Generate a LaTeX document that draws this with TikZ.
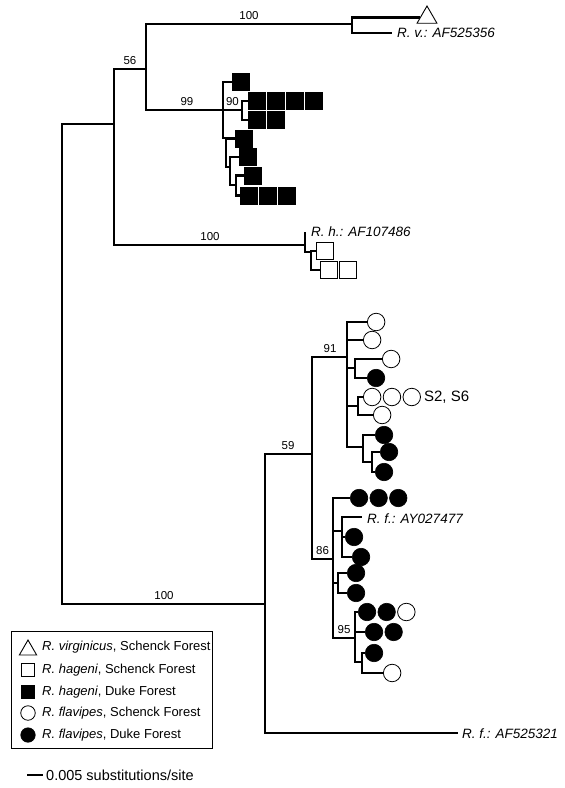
\documentclass[tikz,border=0pt]{standalone}
\usepackage{fontspec}
\setmainfont{Liberation Sans}
\usetikzlibrary{positioning,shapes.geometric}

\begin{document}
\begin{tikzpicture}[x=1pt,y=-1pt,
  br/.style={line width=2.2pt},
  fsq/.style={rectangle,draw,fill=black,minimum size=17pt,inner sep=0pt,line width=0.6pt},
  osq/.style={rectangle,draw,fill=white,minimum size=17pt,inner sep=0pt,line width=0.8pt},
  fci/.style={circle,draw,fill=black,minimum size=17.5pt,inner sep=0pt,line width=0.6pt},
  oci/.style={circle,draw,fill=white,minimum size=17.5pt,inner sep=0pt,line width=0.8pt},
  tri/.style={regular polygon,regular polygon sides=3,draw,fill=white,minimum size=23pt,inner sep=0pt,line width=0.9pt},
  boot/.style={font=\fontsize{11.5}{12}\selectfont,inner sep=0pt,anchor=base},
  leaflab/.style={font=\fontsize{13.5}{15}\selectfont\itshape,inner sep=0pt,anchor=west},
  legtxt/.style={font=\fontsize{13}{15}\selectfont,inner sep=0pt,anchor=west},
  row/.style={right=1.5pt of #1}
]
\useasboundingbox (0,0) rectangle (565,788);

% inner nodes of the tree
\coordinate (root) at (62,364);
\coordinate (nA) at (114,124);
\coordinate (nB) at (146,69);
\coordinate (nC) at (352,24);
\coordinate (nD) at (223,110);
\coordinate (n90) at (242,110);
\coordinate (nE) at (226,138);
\coordinate (nF) at (230,167);
\coordinate (nG) at (236,185);
\coordinate (nH) at (305,245);
\coordinate (nI) at (311,252);
\coordinate (nJ) at (265,604);
\coordinate (nK) at (312,454);
\coordinate (n91) at (347,357);
\coordinate (nP) at (355,368);
\coordinate (nQ) at (358,406);
\coordinate (nR) at (363,447);
\coordinate (nS) at (372,462);
\coordinate (n86) at (333,559);
\coordinate (nU) at (342,531);
\coordinate (nV) at (338,583);
\coordinate (n95) at (355,638);
\coordinate (nT) at (362,662);

% R. virginicus
\node[tri] (v1) at (427,17.5) {};
\coordinate (rvEnd) at (392,33);
\node[leaflab] (rvLab) at (397,33) {R. v.: AF525356};

% R. hageni, Duke Forest
\node[fsq,anchor=west] (d1) at (232,82) {};
\node[fsq,anchor=west] (d2a) at (248,101) {};
\node[fsq,row=d2a] (d2b) {};
\node[fsq,row=d2b] (d2c) {};
\node[fsq,row=d2c] (d2d) {};
\node[fsq,anchor=west] (d3a) at (248,120) {};
\node[fsq,row=d3a] (d3b) {};
\node[fsq,anchor=west] (d4) at (235,138.5) {};
\node[fsq,anchor=west] (d5) at (239,157) {};
\node[fsq,anchor=west] (d6) at (244,175.5) {};
\node[fsq,anchor=west] (d7a) at (240,195.5) {};
\node[fsq,row=d7a] (d7b) {};
\node[fsq,row=d7b] (d7c) {};

% R. hageni, Schenck Forest
\coordinate (rhEnd) at (306,233);
\node[leaflab] (rhLab) at (311,232) {R. h.: AF107486};
\node[osq,anchor=west] (s1) at (316,251) {};
\node[osq,anchor=west] (s2a) at (320,270) {};
\node[osq,row=s2a] (s2b) {};

% R. flavipes, upper clade
\node[oci,anchor=west] (f1) at (367,322) {};
\node[oci,anchor=west] (f2) at (363,340) {};
\node[oci,anchor=west] (f3) at (382,359) {};
\node[fci,anchor=west] (f4) at (367,378) {};
\node[oci,anchor=west] (f5a) at (363,397) {};
\node[oci,row=f5a] (f5b) {};
\node[oci,row=f5b] (f5c) {};
\node[legtxt,font=\fontsize{15}{17}\selectfont,right=3pt of f5c] (site) {S2, S6};
\node[oci,anchor=west] (f6) at (373,415) {};
\node[fci,anchor=west] (f7) at (375,435) {};
\node[fci,anchor=west] (f8) at (380,452) {};
\node[fci,anchor=west] (f9) at (375,472) {};

% R. flavipes, lower clade
\node[fci,anchor=west] (g1a) at (350,498) {};
\node[fci,row=g1a] (g1b) {};
\node[fci,row=g1b] (g1c) {};
\coordinate (rfAYEnd) at (362,517);
\node[leaflab] (rfAYLab) at (367,519) {R. f.: AY027477};
\node[fci,anchor=west] (g2) at (345,537) {};
\node[fci,anchor=west] (g3) at (352,557) {};
\node[fci,anchor=west] (g4) at (347,573) {};
\node[fci,anchor=west] (g5) at (347,593) {};
\node[fci,anchor=west] (h1a) at (358,612) {};
\node[fci,row=h1a] (h1b) {};
\node[oci,row=h1b] (h1c) {};
\node[fci,anchor=west] (h2a) at (365,632) {};
\node[fci,row=h2a] (h2b) {};
\node[fci,anchor=west] (h3) at (365,653) {};
\node[oci,anchor=west] (h4) at (383,673) {};
\coordinate (rfAFEnd) at (458,733);
\node[leaflab] (rfAFLab) at (462,734) {R. f.: AF525321};

% branches
\draw[br] (root) |- (nA);
\draw[br] (root) |- (nJ);
\draw[br] (nA) |- (nB);
\draw[br] (nA) |- (nH);
\draw[br] (nB) |- (nC);
\draw[br] (nB) |- (nD);
\draw[br] (nC) |- (v1.west);
\draw[br] (nC) |- (rvEnd);
\draw[br] (nD) |- (d1.west);
\draw[br] (nD) |- (n90);
\draw[br] (nD) |- (nE);
\draw[br] (n90) |- (d2a.west);
\draw[br] (n90) |- (d3a.west);
\draw[br] (nE) |- (d4.west);
\draw[br] (nE) |- (nF);
\draw[br] (nF) |- (d5.west);
\draw[br] (nF) |- (nG);
\draw[br] (nG) |- (d6.west);
\draw[br] (nG) |- (d7a.west);
\draw[br] (nH) |- (rhEnd);
\draw[br] (nH) |- (nI);
\draw[br] (nI) |- (s1.west);
\draw[br] (nI) |- (s2a.west);
\draw[br] (nJ) |- (nK);
\draw[br] (nJ) |- (rfAFEnd);
\draw[br] (nK) |- (n91);
\draw[br] (nK) |- (n86);
\draw[br] (n91) |- (f1.west);
\draw[br] (n91) |- (f2.west);
\draw[br] (n91) |- (nP);
\draw[br] (n91) |- (nQ);
\draw[br] (n91) |- (nR);
\draw[br] (nP) |- (f3.west);
\draw[br] (nP) |- (f4.west);
\draw[br] (nQ) |- (f5a.west);
\draw[br] (nQ) |- (f6.west);
\draw[br] (nR) |- (f7.west);
\draw[br] (nR) |- (nS);
\draw[br] (nS) |- (f8.west);
\draw[br] (nS) |- (f9.west);
\draw[br] (n86) |- (g1a.west);
\draw[br] (n86) |- (nU);
\draw[br] (n86) |- (nV);
\draw[br] (n86) |- (n95);
\draw[br] (nU) |- (rfAYEnd);
\draw[br] (nU) |- (g2.west);
\draw[br] (nU) |- (g3.west);
\draw[br] (nV) |- (g4.west);
\draw[br] (nV) |- (g5.west);
\draw[br] (n95) |- (h1a.west);
\draw[br] (n95) |- (h2a.west);
\draw[br] (n95) |- (nT);
\draw[br] (nT) |- (h3.west);
\draw[br] (nT) |- (h4.west);

% bootstrap values
\node[boot] (b56) at (130,64) {56};
\node[boot] (b100a) at (249,19) {100};
\node[boot] (b99) at (187,105) {99};
\node[boot] (b90) at (232.5,105) {90};
\node[boot] (b100b) at (210,240) {100};
\node[boot] (b100c) at (164,599) {100};
\node[boot] (b59) at (288,449) {59};
\node[boot] (b91) at (330,352) {91};
\node[boot] (b86) at (322.5,554) {86};
\node[boot] (b95) at (344,633) {95};

% legend
\draw[line width=1.1pt] (11.7,631.7) rectangle (212.7,748.3);
\node[tri,minimum size=20pt] (lg1) at (28,650) {};
\node[legtxt] (lt1) at (42,647) {\textit{R. virginicus}, Schenck Forest};
\node[osq,minimum size=13.5pt] (lg2) at (28,670) {};
\node[legtxt] (lt2) at (42,670) {\textit{R. hageni}, Schenck Forest};
\node[fsq,minimum size=13.5pt] (lg3) at (28,692) {};
\node[legtxt] (lt3) at (42,692) {\textit{R. hageni}, Duke Forest};
\node[oci,minimum size=14.5pt] (lg4) at (28,713) {};
\node[legtxt] (lt4) at (42,713) {\textit{R. flavipes}, Schenck Forest};
\node[fci,minimum size=14.5pt] (lg5) at (28,735) {};
\node[legtxt] (lt5) at (42,735) {\textit{R. flavipes}, Duke Forest};

% scale bar
\coordinate (sbL) at (27,775);
\coordinate (sbR) at (43,775);
\draw[line width=1.8pt] (sbL) -- (sbR);
\node[legtxt,font=\fontsize{14.5}{16}\selectfont] (sbLab) at (46,775) {0.005 substitutions/site};
\end{tikzpicture}
\end{document}
